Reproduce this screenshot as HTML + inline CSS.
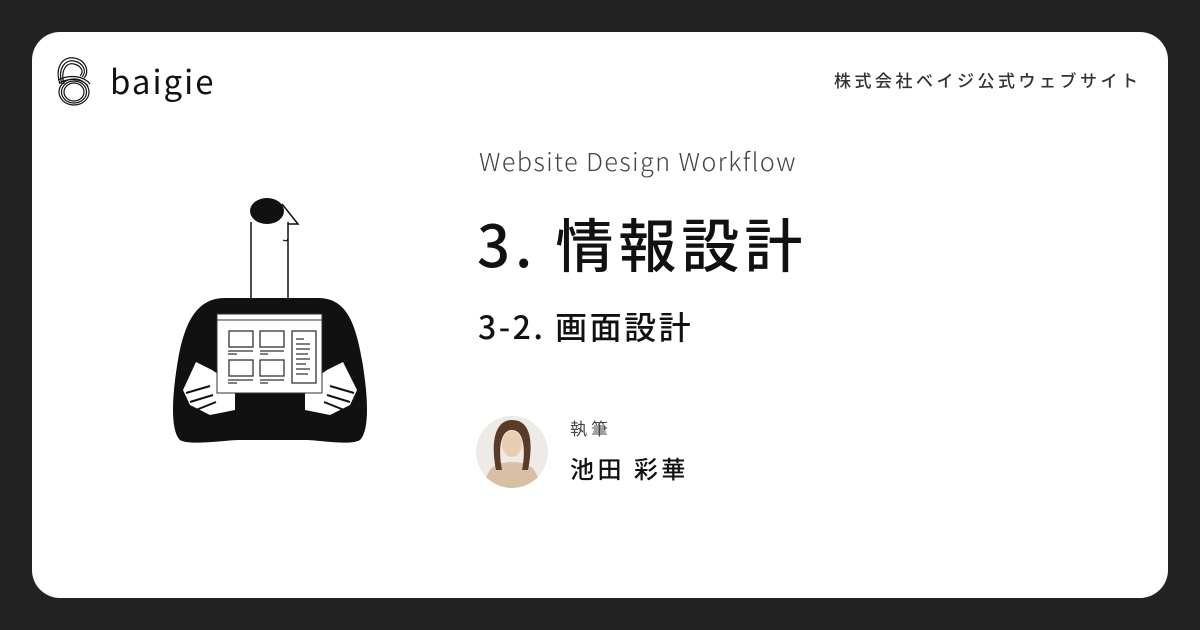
<!DOCTYPE html>
<html><head><meta charset="utf-8"><style>
html,body{margin:0;padding:0;width:1200px;height:630px;background:#222;overflow:hidden}
.card{position:absolute;left:32px;top:32px;width:1136px;height:566px;background:#fff;border-radius:28px}
.t{position:absolute;font-family:"Noto Sans CJK JP","Liberation Sans",sans-serif;color:#111;white-space:nowrap;line-height:1}
</style></head><body>
<div class="card"></div>
<svg style="position:absolute;left:0;top:0" width="1200" height="630">
 <g fill="none" stroke="#111" stroke-width="1.2">
  <path d="M60 84 C54 66 64 56 74 58 C86 60 90 72 84 78"/>
  <path d="M62 84 C57 68 66 59 74 61 C84 63 87 72 82 77"/>
  <path d="M64 84 C60 70 67 62 74 64 C82 66 84 72 80 76"/>
  <ellipse cx="74" cy="92" rx="15" ry="13"/>
  <ellipse cx="74" cy="92" rx="12.5" ry="11"/>
  <ellipse cx="74" cy="92" rx="10" ry="9"/>
  <path d="M58 80 C70 74 84 76 90 84"/>
  <path d="M59 83 C70 77 83 79 88 86"/>
 </g>
 <path d="M251 298 V222 M288 298 V222" stroke="#111" stroke-width="1.5" fill="none"/>
 <ellipse cx="267" cy="211" rx="17" ry="13" fill="#111"/>
 <path d="M282 204 L298 224 L288 224" stroke="#111" stroke-width="1.5" fill="none"/>
 <path d="M283 240 q4 2 5 -1" stroke="#111" stroke-width="1.2" fill="none"/>
 <path d="M225 298 H318 C345 298 355 320 362 360 C368 395 370 430 360 440 C350 446 320 440 305 440 H240 C225 440 190 446 180 440 C170 430 172 395 178 360 C185 320 198 298 225 298 Z" fill="#111"/>
 <g fill="#fff">
  <polygon points="196,362 212,370 235,385 235,410 210,415 190,405 183,390"/>
  <polygon points="343,362 327,370 305,385 305,410 330,415 350,405 357,390"/>
 </g>
 <g stroke="#111" stroke-width="2">
  <path d="M186 393 L210 386 M190 402 L213 395 M196 410 L216 402"/>
  <path d="M354 393 L330 386 M350 402 L327 395 M344 410 L324 402"/>
 </g>
 <rect x="217" y="314" width="105" height="79" fill="#fff" stroke="#333" stroke-width="1"/>
 <line x1="217" y1="320" x2="322" y2="320" stroke="#333" stroke-width="1"/>
 <g fill="none" stroke="#333" stroke-width="1.3">
  <rect x="229" y="331" width="24" height="16"/><rect x="260" y="331" width="24" height="16"/>
  <rect x="229" y="360" width="24" height="16"/><rect x="260" y="360" width="24" height="16"/>
  <rect x="292" y="331" width="24" height="52"/>
 </g>
 <g stroke="#333" stroke-width="1.2">
  <path d="M228 351 H253 M228 354 H237 M260 351 H284 M260 354 H268 M228 380 H253 M228 383 H237 M260 380 H284 M260 383 H268"/>
  <path d="M296 339 H304 M296 344 H310 M296 349 H310 M296 354 H308 M296 359 H310 M296 364 H306 M296 369 H310 M296 374 H308"/>
 </g>
 <defs><clipPath id="c"><circle cx="512" cy="452" r="36"/></clipPath></defs>
 <circle cx="512" cy="452" r="36" fill="#eeeae6"/>
 <g clip-path="url(#c)">
  <path d="M484 490 C486 470 492 462 512 462 C532 462 538 470 540 490Z" fill="#d9bfa4"/>
  <path d="M496 470 C490 440 496 420 512 420 C530 420 534 440 528 470 L522 470 C526 450 524 430 512 430 C500 430 498 450 502 470Z" fill="#5a3a28"/>
  <ellipse cx="512" cy="444" rx="10" ry="13" fill="#e8cdb4"/>
 </g>
</svg>
<div class="t" style="left:110px;top:64px;font-size:33px;letter-spacing:2px">baigie</div>
<div class="t" style="left:834px;top:71px;font-size:17px;color:#333;letter-spacing:3.5px;font-weight:500">株式会社ベイジ公式ウェブサイト</div>
<div class="t" style="left:479px;top:149px;font-size:25px;color:#444;font-weight:300;letter-spacing:1.5px">Website Design Workflow</div>
<div class="t" style="left:477px;top:213px;font-size:58px;font-weight:500;letter-spacing:5px">3. 情報設計</div>
<div class="t" style="left:478px;top:310px;font-size:32px;font-weight:500;letter-spacing:2.5px">3-2. 画面設計</div>
<div class="t" style="left:570px;top:419px;font-size:17px;color:#444;letter-spacing:4px">執筆</div>
<div class="t" style="left:570px;top:456px;font-size:24px;font-weight:500;letter-spacing:3.5px">池田 彩華</div>
</body></html>
